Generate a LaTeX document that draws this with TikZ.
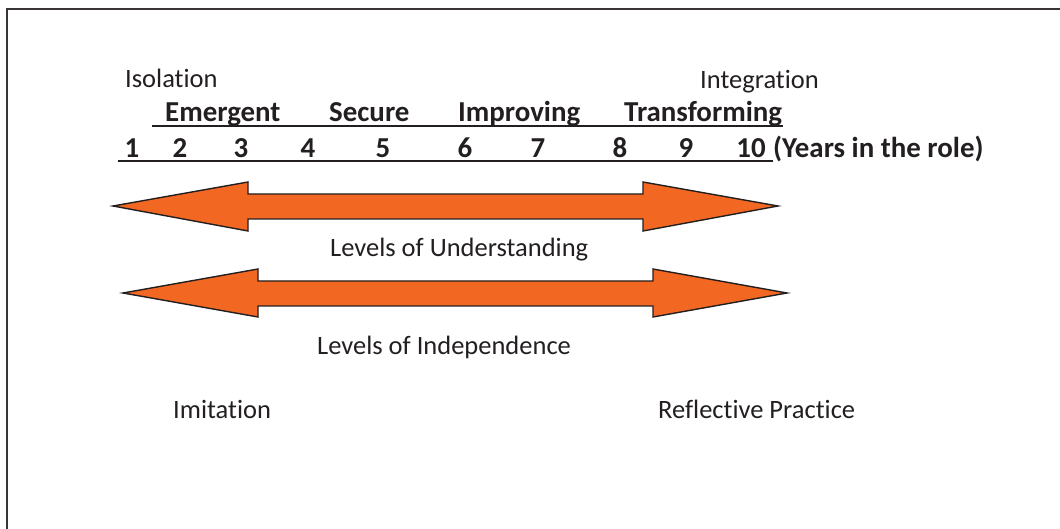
\documentclass[tikz,border=0pt]{standalone}
\usepackage{fontspec}
\setmainfont{Carlito}[Ligatures=NoCommon]
\definecolor{txt}{HTML}{231F20}
\definecolor{arrowfill}{HTML}{F26822}
\begin{document}
\begin{tikzpicture}[x=1pt,y=-1pt,
  reg/.style={inner sep=0pt,anchor=base west,text=txt,font=\fontsize{26.5}{31}\selectfont},
  bld/.style={inner sep=0pt,anchor=base west,text=txt,font=\fontsize{28.9}{34}\selectfont\bfseries},
  num/.style={inner sep=0pt,anchor=base,text=txt,font=\fontsize{28.9}{34}\selectfont\bfseries},
  rule/.style={draw=txt,line width=2pt},
  dblarrow/.style={draw=txt,line width=1.4pt,fill=arrowfill,line join=miter}]
\useasboundingbox (0,0) rectangle (1060,529);
% frame
\draw[draw=txt!90,line width=2pt] (6.5,529) -- (6.5,9.5) -- (1060,9.5);
% top labels
\node[reg] (iso) at (125,88) {Isolation};
\node[reg] (integ) at (700,89) {Integration};
% stages
\node[bld] (emer) at (165,122) {Emergent};
\node[bld] (sec) at (329,122) {Secure};
\node[bld] (imp) at (458,122) {Improving};
\node[bld] (trans) at (624,122) {Transforming};
\coordinate (r1a) at (152,126.5);
\coordinate (r1b) at (783,126.5);
\draw[rule] (r1a) -- (r1b);
% years
\node[num] (n1) at (132,157.5) {1};
\node[num] (n2) at (180,157.5) {2};
\node[num] (n3) at (241,157.5) {3};
\node[num] (n4) at (308,157.5) {4};
\node[num] (n5) at (383,157.5) {5};
\node[num] (n6) at (465,157.5) {6};
\node[num] (n7) at (538,157.5) {7};
\node[num] (n8) at (620,157.5) {8};
\node[num] (n9) at (686,157.5) {9};
\node[num] (n10) at (751,157.5) {10};
\node[bld] (years) at (773,157.5) {(Years in the role)};
\coordinate (r2a) at (118,161.5);
\coordinate (r2b) at (773,161.5);
\draw[rule] (r2a) -- (r2b);
% arrow 1
\draw[dblarrow] (113,206) -- (248,182) -- (248,194) -- (643,194) -- (643,182) -- (778,206)
  -- (643,231) -- (643,219) -- (248,219) -- (248,231) -- cycle;
\node[reg] (lu) at (330,256.5) {Levels of Understanding};
% arrow 2
\draw[dblarrow] (123,293) -- (258,269) -- (258,281) -- (653,281) -- (653,269) -- (787,293)
  -- (653,317) -- (653,306) -- (258,306) -- (258,317) -- cycle;
\node[reg] (li) at (317,354) {Levels of Independence};
% bottom labels
\node[reg] (imit) at (173,418) {Imitation};
\node[reg] (refl) at (658,418) {Reflective Practice};
\end{tikzpicture}
\end{document}
